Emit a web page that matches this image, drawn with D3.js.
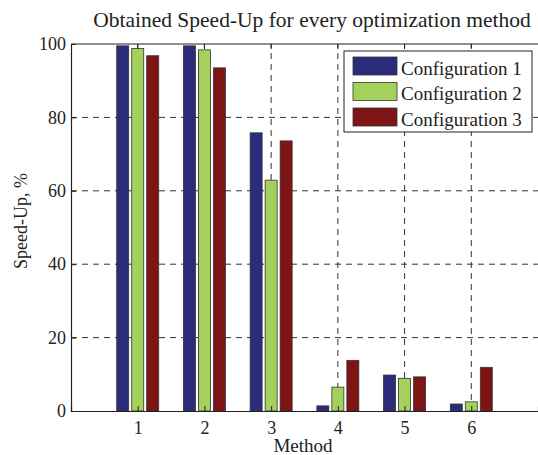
<!DOCTYPE html>
<html><head><meta charset="utf-8">
<script src="https://cdn.jsdelivr.net/npm/d3@7"></script>
<style>
html,body{margin:0;padding:0;background:#fff;}
svg{display:block;}
text{font-family:"Liberation Serif","Times New Roman",serif;fill:#222;}
</style></head>
<body>
<script>
const methods = [1, 2, 3, 4, 5, 6];
const seriesNames = ["Configuration 1", "Configuration 2", "Configuration 3"];
const config1 = [99.5, 99.5, 75.8, 1.4, 9.8, 1.9];
const config2 = [98.8, 98.4, 62.9, 6.5, 8.9, 2.5];
const config3 = [96.8, 93.5, 73.6, 13.8, 9.3, 11.9];
const yTicks = [0, 20, 40, 60, 80, 100];
const colors = ["#2b2d7c", "#a4d15c", "#7e1416"];

const W = 538, H = 455;
const m = {left: 71, right: 0, top: 44, bottom: 44};
const svg = d3.select("body").append("svg").attr("width", W).attr("height", H);

const x = d3.scaleLinear().domain([0, 7]).range([m.left, W - m.right]);
const y = d3.scaleLinear().domain([0, 100]).range([H - m.bottom, m.top]);

const series = [config1, config2, config3];
const barW = 12, step = 15;

// grid
const g = svg.append("g");
g.selectAll(".hg").data(yTicks.filter(d => d > 0 && d < 100)).join("line")
  .attr("x1", m.left).attr("x2", W).attr("y1", d => y(d)).attr("y2", d => y(d))
  .attr("stroke", "#333").attr("stroke-width", 1).attr("stroke-dasharray", "6,5");
g.selectAll(".vg").data(methods).join("line")
  .attr("x1", d => x(d)).attr("x2", d => x(d)).attr("y1", y(0)).attr("y2", y(100))
  .attr("stroke", "#333").attr("stroke-width", 1).attr("stroke-dasharray", "6,5");

// bars
series.forEach((s, i) => {
  svg.append("g").selectAll("rect").data(s).join("rect")
    .attr("x", (d, j) => x(methods[j]) + (i - 1) * step - barW / 2)
    .attr("width", barW)
    .attr("y", d => y(d))
    .attr("height", d => y(0) - y(d))
    .attr("fill", colors[i])
    .attr("stroke", "#333").attr("stroke-width", 0.8);
});

// axes
const xAxis = d3.axisBottom(x).tickValues(methods).tickSize(-5).tickPadding(10).tickFormat(d3.format("d"));
const xg = svg.append("g").attr("transform", `translate(0,${y(0)})`).call(xAxis);
xg.attr("font-family", null);
xg.select(".domain").attr("stroke", "#222").attr("stroke-width", 1.2);
xg.selectAll("text").attr("font-size", 18).attr("fill", "#222").style("font-family", "'Liberation Serif', serif");
xg.selectAll(".tick line").attr("stroke", "#222");

const yAxis = d3.axisLeft(y).tickValues(yTicks).tickSize(-5).tickPadding(5);
const yg = svg.append("g").attr("transform", `translate(${m.left},0)`).call(yAxis);
yg.attr("font-family", null);
yg.select(".domain").attr("stroke", "#222").attr("stroke-width", 1.2);
yg.selectAll("text").attr("font-size", 18).attr("fill", "#222").style("font-family", "'Liberation Serif', serif");
yg.selectAll(".tick line").attr("stroke", "#222");

// top border with top ticks
svg.append("line").attr("x1", m.left).attr("x2", W).attr("y1", y(100)).attr("y2", y(100))
  .attr("stroke", "#222").attr("stroke-width", 1.2);
svg.append("g").selectAll("line").data(methods).join("line")
  .attr("x1", d => x(d)).attr("x2", d => x(d)).attr("y1", y(100)).attr("y2", y(100) + 5)
  .attr("stroke", "#222");

// title and labels
svg.append("text").attr("x", 312).attr("y", 27).attr("text-anchor", "middle")
  .attr("font-size", 21.5).text("Obtained Speed-Up for every optimization method");
svg.append("text").attr("x", 303).attr("y", 452).attr("text-anchor", "middle")
  .attr("font-size", 19).text("Method");
svg.append("text").attr("transform", `translate(27,221) rotate(-90)`).attr("text-anchor", "middle")
  .attr("font-size", 18).text("Speed-Up, %");

// legend
const lg = svg.append("g");
lg.append("rect").attr("x", 344).attr("y", 51).attr("width", 188).attr("height", 81)
  .attr("fill", "#fff").attr("stroke", "#222").attr("stroke-width", 1);
seriesNames.forEach((n, i) => {
  lg.append("rect").attr("x", 353).attr("y", 57 + i * 25.5).attr("width", 44).attr("height", 18)
    .attr("fill", colors[i]).attr("stroke", "#333").attr("stroke-width", 0.8);
  lg.append("text").attr("x", 401).attr("y", 74.5 + i * 25.5).attr("font-size", 19).text(n);
});
</script>
</body></html>
